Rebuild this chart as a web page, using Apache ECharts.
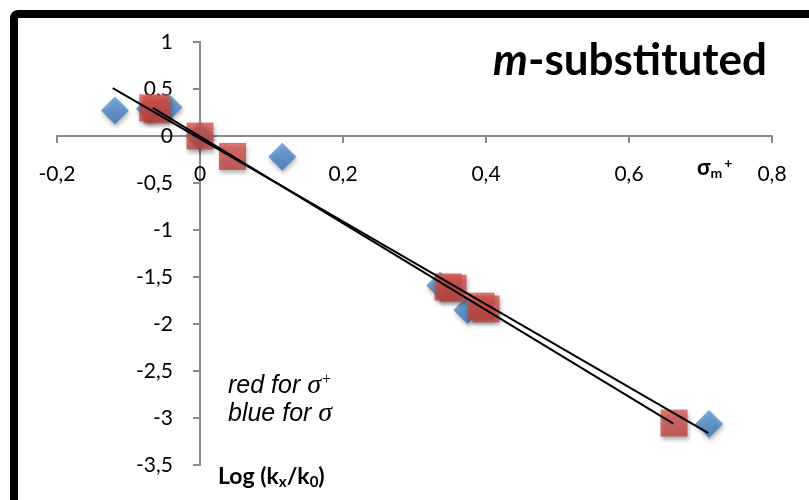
<!DOCTYPE html>
<html>
<head>
<meta charset="utf-8">
<script src="https://cdn.jsdelivr.net/npm/echarts@6/dist/echarts.min.js"></script>
<style>
  html, body { margin: 0; padding: 0; background: #fff; }
  #chart { width: 809px; height: 500px; }
</style>
</head>
<body>
<div id="chart"></div>
<script>
// σ (blue diamonds)
const sigmaX = [-0.119, -0.07, -0.044, 0, 0.115, 0.336, 0.374, 0.712]
const sigmaY = [0.27, 0.29, 0.305, 0, -0.22, -1.59, -1.85, -3.065]
// σ+ (red squares)
const sigmaPlusX = [-0.066, -0.06, 0, 0.0455, 0.347, 0.354, 0.393, 0.40, 0.663]
const sigmaPlusY = [0.30, 0.28, 0, -0.217, -1.606, -1.62, -1.81, -1.84, -3.054]
// trend lines (start / end)
const fitSigmaX = [-0.122, 0.711]
const fitSigmaY = [0.51, -3.16]
const fitPlusX = [-0.066, 0.662]
const fitPlusY = [0.30, -3.06]

const xMin = -0.2, xMax = 0.8, xStep = 0.2
const yMin = -3.5, yMax = 1, yStep = 0.5

const zip = (a, b) => a.map((v, i) => [v, b[i]])
const comma = v => String(Math.round(v * 10) / 10).replace('.', ',')
const font = 'Lato, "Open Sans", sans-serif'

// grid box (px)
const W = 809, H = 500
const gLeft = 57, gRight = 37, gTop = 42, gBottom = 35
const gW = W - gLeft - gRight
const gH = H - gTop - gBottom
// move axes to cross at 0 (labels travel with them)
const xAxisOffset = -((0 - yMin) / (yMax - yMin)) * gH
const yAxisOffset = -((0 - xMin) / (xMax - xMin)) * gW

const chart = echarts.init(document.getElementById('chart'))

const axisCommon = {
  type: 'value',
  axisLine: { onZero: false, lineStyle: { color: '#8a8a8a', width: 2 } },
  axisTick: { show: true, inside: false, length: 7, lineStyle: { color: '#8a8a8a', width: 2 } },
  splitLine: { show: false },
  axisLabel: { color: '#000', fontSize: 21, fontFamily: font, formatter: comma }
}

const markerShadow = {
  shadowBlur: 4,
  shadowOffsetX: 1,
  shadowOffsetY: 3,
  shadowColor: 'rgba(0,0,0,0.35)'
}

chart.setOption({
  animation: false,
  grid: {
    left: gLeft, right: gRight, top: gTop, bottom: gBottom,
    containLabel: false,
    outerBoundsMode: 'none'
  },
  xAxis: Object.assign({}, axisCommon, {
    position: 'bottom',
    offset: xAxisOffset,
    min: xMin, max: xMax, interval: xStep,
    axisLabel: Object.assign({}, axisCommon.axisLabel, { margin: 28 })
  }),
  yAxis: Object.assign({}, axisCommon, {
    position: 'left',
    offset: yAxisOffset,
    min: yMin, max: yMax, interval: yStep,
    axisLabel: Object.assign({}, axisCommon.axisLabel, { margin: 27 })
  }),
  series: [
    {
      type: 'scatter',
      symbol: 'diamond',
      symbolSize: 28,
      data: zip(sigmaX, sigmaY),
      itemStyle: Object.assign({
        color: {
          type: 'linear', x: 0, y: 0, x2: 0, y2: 1,
          colorStops: [{ offset: 0, color: '#5a9ad8' }, { offset: 1, color: '#3b72b3' }]
        }
      }, markerShadow),
      z: 2
    },
    {
      type: 'scatter',
      symbol: 'rect',
      symbolSize: 27,
      data: zip(sigmaPlusX, sigmaPlusY),
      itemStyle: Object.assign({
        color: {
          type: 'linear', x: 0, y: 0, x2: 0, y2: 1,
          colorStops: [{ offset: 0, color: '#d6554f' }, { offset: 1, color: '#b8433f' }]
        }
      }, markerShadow),
      z: 3
    },
    {
      type: 'line',
      data: zip(fitSigmaX, fitSigmaY),
      showSymbol: false,
      lineStyle: { color: '#000', width: 2 },
      z: 5
    },
    {
      type: 'line',
      data: zip(fitPlusX, fitPlusY),
      showSymbol: false,
      lineStyle: { color: '#000', width: 2 },
      z: 5
    }
  ],
  graphic: [
    {
      type: 'rect',
      shape: { x: 14, y: 14, width: 1000, height: 1000, r: 4 },
      style: { fill: 'none', stroke: '#000', lineWidth: 8 },
      z: 100
    },
    {
      type: 'text',
      right: 42,
      top: 39,
      style: {
        text: '{i|m}{b|-substituted}',
        rich: {
          i: { fontSize: 44, fontWeight: 'bold', fontStyle: 'italic', fontFamily: font, fill: '#000' },
          b: { fontSize: 44, fontWeight: 'bold', fontFamily: font, fill: '#000' }
        }
      }
    },
    {
      type: 'text',
      left: 697,
      top: 156,
      style: {
        text: '{s|σ}{sub|m}{sup|+}',
        rich: {
          s: { fontSize: 22, fontWeight: 'bold', fontFamily: font, fill: '#000' },
          sub: { fontSize: 14, fontWeight: 'bold', fontFamily: font, fill: '#000', padding: [10, 0, 0, 0] },
          sup: { fontSize: 14, fontWeight: 'bold', fontFamily: font, fill: '#000', padding: [0, 0, 10, 2] }
        }
      }
    },
    {
      type: 'text',
      left: 218,
      top: 465,
      style: {
        text: '{b|Log (k}{sub|x}{b|/k}{sub|0}{b|)}',
        rich: {
          b: { fontSize: 23, fontWeight: 'bold', fontFamily: font, fill: '#000' },
          sub: { fontSize: 15, fontWeight: 'bold', fontFamily: font, fill: '#000', padding: [11, 0, 0, 0] }
        }
      }
    },
    {
      type: 'text',
      left: 228,
      top: 372,
      style: {
        text: '{t|red for }{g|σ}{sup|+}\n{t|blue for }{g|σ}',
        rich: {
          t: { fontSize: 25, fontStyle: 'italic', fontFamily: 'Liberation Sans, Arial, sans-serif', fill: '#000', lineHeight: 28 },
          g: { fontSize: 28, fontStyle: 'italic', fontFamily: 'Liberation Serif, serif', fill: '#000', lineHeight: 28 },
          sup: { fontSize: 16, fontStyle: 'italic', fontFamily: 'Liberation Serif, serif', fill: '#000', padding: [0, 0, 12, 0] }
        }
      }
    }
  ]
})
</script>
</body>
</html>
